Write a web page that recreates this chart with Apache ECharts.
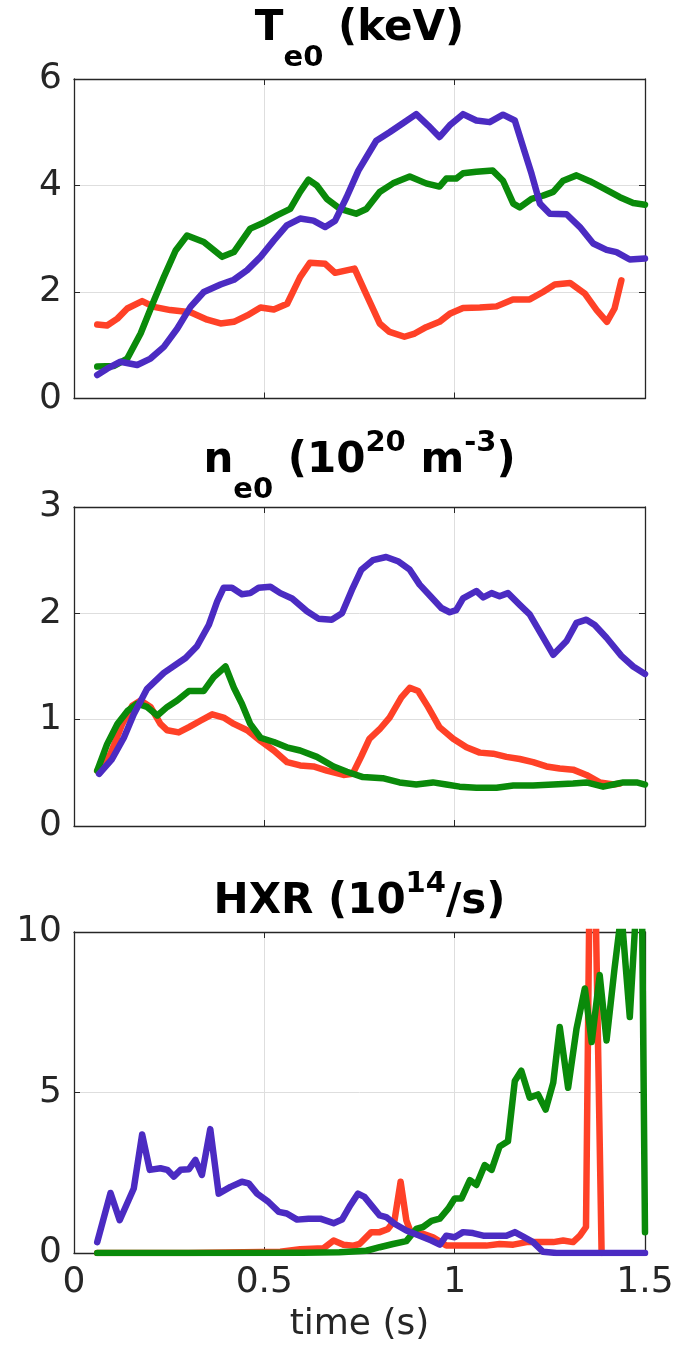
<!DOCTYPE html>
<html>
<head>
<meta charset="utf-8">
<script src="https://cdn.jsdelivr.net/npm/echarts@6/dist/echarts.min.js"></script>
<style>
  html, body { margin: 0; padding: 0; background: #fff; }
  #chart { width: 680px; height: 1359px; }
</style>
</head>
<body>
<div id="chart"></div>
<script>
// Central electron temperature (keV), [time s, value]
const teRed = [[0.061,1.39],[0.087,1.37],[0.114,1.50],[0.14,1.69],[0.179,1.83],[0.21,1.72],[0.253,1.66],[0.306,1.62],[0.35,1.48],[0.385,1.41],[0.42,1.44],[0.455,1.56],[0.49,1.71],[0.525,1.67],[0.56,1.78],[0.594,2.28],[0.62,2.55],[0.66,2.53],[0.686,2.36],[0.737,2.44],[0.763,2.03],[0.803,1.41],[0.829,1.25],[0.868,1.16],[0.895,1.22],[0.925,1.34],[0.96,1.44],[0.987,1.59],[1.022,1.70],[1.066,1.71],[1.11,1.73],[1.153,1.86],[1.197,1.86],[1.232,2.00],[1.263,2.14],[1.303,2.17],[1.342,1.97],[1.373,1.66],[1.40,1.44],[1.42,1.69],[1.438,2.22]];
const teGreen = [[0.061,0.60],[0.105,0.61],[0.14,0.75],[0.175,1.22],[0.21,1.84],[0.236,2.28],[0.267,2.78],[0.297,3.06],[0.341,2.94],[0.389,2.66],[0.42,2.75],[0.463,3.19],[0.498,3.30],[0.533,3.44],[0.568,3.56],[0.594,3.88],[0.616,4.11],[0.638,4.00],[0.664,3.75],[0.699,3.56],[0.741,3.47],[0.768,3.56],[0.803,3.88],[0.838,4.04],[0.882,4.17],[0.925,4.04],[0.96,3.98],[0.978,4.13],[1.004,4.13],[1.022,4.23],[1.057,4.26],[1.10,4.28],[1.127,4.09],[1.154,3.66],[1.171,3.59],[1.202,3.75],[1.232,3.81],[1.259,3.88],[1.285,4.09],[1.32,4.19],[1.355,4.08],[1.39,3.95],[1.434,3.78],[1.469,3.67],[1.50,3.64]];
const teBlue = [[0.061,0.44],[0.087,0.56],[0.122,0.69],[0.166,0.63],[0.201,0.75],[0.236,0.97],[0.271,1.31],[0.306,1.72],[0.341,2.00],[0.385,2.14],[0.42,2.23],[0.455,2.41],[0.49,2.66],[0.525,2.97],[0.559,3.25],[0.594,3.38],[0.629,3.34],[0.66,3.22],[0.686,3.34],[0.716,3.78],[0.747,4.28],[0.768,4.53],[0.794,4.84],[0.829,5.00],[0.864,5.17],[0.899,5.34],[0.93,5.13],[0.96,4.91],[0.987,5.13],[1.022,5.34],[1.057,5.22],[1.092,5.19],[1.127,5.33],[1.158,5.22],[1.18,4.72],[1.202,4.22],[1.224,3.66],[1.25,3.47],[1.294,3.46],[1.329,3.22],[1.364,2.91],[1.399,2.79],[1.425,2.75],[1.46,2.61],[1.50,2.63]];

// Central electron density (1e20 m^-3)
const neRed = [[0.061,0.52],[0.096,0.68],[0.127,0.96],[0.153,1.13],[0.175,1.18],[0.201,1.12],[0.227,0.96],[0.245,0.90],[0.275,0.88],[0.302,0.93],[0.332,0.99],[0.363,1.05],[0.393,1.02],[0.42,0.96],[0.455,0.90],[0.49,0.80],[0.525,0.71],[0.56,0.60],[0.594,0.57],[0.629,0.56],[0.664,0.52],[0.708,0.48],[0.732,0.49],[0.754,0.65],[0.776,0.82],[0.803,0.91],[0.829,1.02],[0.86,1.21],[0.882,1.30],[0.904,1.27],[0.93,1.12],[0.96,0.93],[0.996,0.82],[1.031,0.74],[1.066,0.69],[1.101,0.68],[1.136,0.65],[1.171,0.63],[1.206,0.60],[1.241,0.56],[1.276,0.54],[1.311,0.53],[1.346,0.48],[1.381,0.41],[1.417,0.39],[1.434,0.40]];
const neGreen = [[0.061,0.52],[0.087,0.77],[0.114,0.96],[0.14,1.08],[0.166,1.15],[0.192,1.12],[0.219,1.04],[0.245,1.12],[0.271,1.18],[0.302,1.27],[0.341,1.27],[0.367,1.40],[0.398,1.50],[0.42,1.30],[0.441,1.15],[0.463,0.96],[0.49,0.83],[0.525,0.79],[0.559,0.74],[0.594,0.71],[0.638,0.65],[0.682,0.56],[0.717,0.51],[0.759,0.46],[0.811,0.45],[0.855,0.41],[0.899,0.39],[0.943,0.41],[0.978,0.39],[1.013,0.37],[1.057,0.36],[1.11,0.36],[1.154,0.38],[1.206,0.38],[1.259,0.39],[1.311,0.40],[1.346,0.41],[1.39,0.37],[1.417,0.39],[1.443,0.41],[1.478,0.41],[1.50,0.39]];
const neBlue = [[0.066,0.49],[0.10,0.63],[0.131,0.83],[0.157,1.05],[0.192,1.29],[0.236,1.44],[0.293,1.58],[0.323,1.69],[0.354,1.89],[0.376,2.11],[0.393,2.24],[0.415,2.24],[0.441,2.18],[0.463,2.19],[0.485,2.24],[0.516,2.25],[0.542,2.19],[0.573,2.14],[0.612,2.02],[0.642,1.95],[0.677,1.94],[0.704,2.00],[0.73,2.22],[0.755,2.41],[0.785,2.50],[0.82,2.53],[0.851,2.49],[0.882,2.41],[0.908,2.27],[0.934,2.17],[0.965,2.05],[0.987,2.01],[1.004,2.03],[1.022,2.14],[1.057,2.21],[1.075,2.15],[1.097,2.19],[1.118,2.16],[1.14,2.19],[1.171,2.08],[1.197,1.99],[1.228,1.80],[1.259,1.61],[1.294,1.74],[1.32,1.91],[1.346,1.94],[1.368,1.89],[1.399,1.77],[1.438,1.60],[1.469,1.50],[1.50,1.43]];

// Hard X-ray rate (1e14 /s)
const hxrRed = [[0.061,0],[0.3,0],[0.542,0.04],[0.594,0.12],[0.656,0.15],[0.682,0.39],[0.708,0.26],[0.734,0.23],[0.75,0.28],[0.781,0.65],[0.803,0.65],[0.825,0.75],[0.842,1.02],[0.858,2.22],[0.873,1.02],[0.886,0.60],[0.917,0.60],[0.943,0.49],[0.978,0.23],[1.013,0.23],[1.048,0.23],[1.083,0.23],[1.118,0.28],[1.154,0.26],[1.189,0.34],[1.224,0.34],[1.259,0.34],[1.285,0.39],[1.311,0.34],[1.329,0.54],[1.345,0.81],[1.36,18],[1.386,0]];
const hxrGreen = [[0.061,0],[0.2,0],[0.4,0],[0.6,0.01],[0.697,0.02],[0.768,0.07],[0.803,0.18],[0.838,0.28],[0.873,0.37],[0.899,0.75],[0.917,0.81],[0.939,1.0],[0.961,1.07],[0.983,1.38],[1.0,1.70],[1.018,1.70],[1.04,2.27],[1.057,2.12],[1.079,2.74],[1.097,2.59],[1.118,3.32],[1.14,3.48],[1.158,5.36],[1.175,5.68],[1.197,4.84],[1.219,4.94],[1.239,4.47],[1.259,5.31],[1.276,7.04],[1.298,5.15],[1.32,6.98],[1.342,8.24],[1.36,6.57],[1.381,8.66],[1.399,6.62],[1.42,8.87],[1.438,10.6],[1.46,7.35],[1.478,11],[1.492,11],[1.50,0.65]];
const hxrBlue = [[0.061,0.34],[0.096,1.87],[0.12,1.02],[0.157,2.01],[0.179,3.69],[0.199,2.59],[0.227,2.64],[0.245,2.59],[0.262,2.38],[0.28,2.59],[0.302,2.61],[0.319,2.90],[0.336,2.43],[0.358,3.86],[0.38,1.85],[0.411,2.06],[0.441,2.22],[0.459,2.17],[0.481,1.85],[0.511,1.59],[0.538,1.28],[0.559,1.23],[0.586,1.04],[0.616,1.07],[0.647,1.07],[0.682,0.93],[0.704,1.04],[0.726,1.49],[0.746,1.85],[0.763,1.75],[0.785,1.43],[0.803,1.17],[0.82,1.12],[0.842,0.91],[0.873,0.70],[0.908,0.54],[0.939,0.39],[0.961,0.26],[0.978,0.54],[1.0,0.49],[1.022,0.65],[1.048,0.62],[1.075,0.54],[1.11,0.54],[1.136,0.54],[1.158,0.65],[1.18,0.51],[1.206,0.34],[1.232,0.04],[1.268,0],[1.35,0],[1.5,0]];

// Axis ranges and tick steps
const timeRange = { min: 0, max: 1.5, interval: 0.5 };
const yRanges = [
  { min: 0, max: 6, interval: 2 },
  { min: 0, max: 3, interval: 1 },
  { min: 0, max: 10, interval: 5 }
];
const panelTitles = [
  '{m|T}{sub|e0}{m| (keV)}',
  '{m|n}{sub|e0}{m| (10}{sup|20}{m| m}{sup|-3}{m|)}',
  '{m|HXR (10}{sup|14}{m|/s)}'
];
const xAxisName = 'time (s)';

const COLORS = { red: '#ff4127', green: '#0a8a0a', blue: '#4b2bc2' };
const AXIS_COLOR = '#262626';
const FONT = 'DejaVu Sans';
const TICK_FONT = 36;

const PLOT_LEFT = 74, PLOT_RIGHT = 35, PLOT_W = 680 - PLOT_LEFT - PLOT_RIGHT;
const grids = [
  { left: PLOT_LEFT, width: PLOT_W, top: 79, height: 319.5 },
  { left: PLOT_LEFT, width: PLOT_W, top: 507, height: 319 },
  { left: PLOT_LEFT, width: PLOT_W, top: 932, height: 321 }
];
const titleY = [29, 461, 902];

const xAxes = [], yAxes = [];
grids.forEach((g, i) => {
  const isBottom = i === grids.length - 1;
  // bottom / left: labelled axes with grid lines
  xAxes.push({
    type: 'value', gridIndex: i, position: 'bottom', ...timeRange,
    axisLine: { show: true, onZero: false, lineStyle: { color: AXIS_COLOR, width: 1.3 } },
    axisTick: { show: true, inside: true, length: 6, lineStyle: { color: AXIS_COLOR } },
    axisLabel: { show: isBottom, color: AXIS_COLOR, fontSize: TICK_FONT, fontFamily: FONT, margin: 12 },
    splitLine: { show: true, lineStyle: { color: '#dedede', width: 1 } },
    name: isBottom ? xAxisName : '', nameLocation: 'middle', nameGap: 54,
    nameTextStyle: { color: AXIS_COLOR, fontSize: TICK_FONT, fontFamily: FONT }
  });
  yAxes.push({
    type: 'value', gridIndex: i, position: 'left', ...yRanges[i],
    axisLine: { show: true, onZero: false, lineStyle: { color: AXIS_COLOR, width: 1.3 } },
    axisTick: { show: true, inside: true, length: 6, lineStyle: { color: AXIS_COLOR } },
    axisLabel: { show: true, color: AXIS_COLOR, fontSize: TICK_FONT, fontFamily: FONT, margin: 12 },
    splitLine: { show: true, lineStyle: { color: '#dedede', width: 1 } }
  });
  // top / right: box edges with inward ticks
  xAxes.push({
    type: 'value', gridIndex: i, position: 'top', ...timeRange,
    axisLine: { show: true, onZero: false, lineStyle: { color: AXIS_COLOR, width: 1.3 } },
    axisTick: { show: true, inside: true, length: 6, lineStyle: { color: AXIS_COLOR } },
    axisLabel: { show: false }, splitLine: { show: false }
  });
  yAxes.push({
    type: 'value', gridIndex: i, position: 'right', ...yRanges[i],
    axisLine: { show: true, onZero: false, lineStyle: { color: AXIS_COLOR, width: 1.3 } },
    axisTick: { show: true, inside: true, length: 6, lineStyle: { color: AXIS_COLOR } },
    axisLabel: { show: false }, splitLine: { show: false }
  });
});

function lineSeries(data, color, panel) {
  return {
    type: 'line', data, xAxisIndex: panel * 2, yAxisIndex: panel * 2,
    showSymbol: false, clip: true, animation: false, silent: true,
    lineStyle: { color, width: 6.5, cap: 'round', join: 'round' }
  };
}

const series = [
  lineSeries(teRed, COLORS.red, 0), lineSeries(teGreen, COLORS.green, 0), lineSeries(teBlue, COLORS.blue, 0),
  lineSeries(neRed, COLORS.red, 1), lineSeries(neGreen, COLORS.green, 1), lineSeries(neBlue, COLORS.blue, 1),
  lineSeries(hxrRed, COLORS.red, 2), lineSeries(hxrGreen, COLORS.green, 2), lineSeries(hxrBlue, COLORS.blue, 2)
];

// Title line: main text centred, subscripts sit at the line bottom, superscripts
// at the line top pushed down by padding
const richTitle = {
  m:   { fontSize: 42, fontWeight: 'bold', fontFamily: FONT, lineHeight: 88, fill: '#000' },
  sub: { fontSize: 29, fontWeight: 'bold', fontFamily: FONT, verticalAlign: 'bottom', fill: '#000' },
  sup: { fontSize: 29, fontWeight: 'bold', fontFamily: FONT, verticalAlign: 'top', padding: [12, 0, 0, 0], fill: '#000' }
};

const graphic = panelTitles.map((t, i) => ({
  type: 'text', x: PLOT_LEFT + PLOT_W / 2, y: titleY[i], silent: true,
  style: { text: t, rich: richTitle, align: 'center', verticalAlign: 'middle', fill: '#000' }
}));

const chart = echarts.init(document.getElementById('chart'), null, { renderer: 'canvas' });
chart.setOption({
  animation: false,
  backgroundColor: '#ffffff',
  grid: grids.map(g => ({ ...g, containLabel: false })),
  xAxis: xAxes,
  yAxis: yAxes,
  series,
  graphic
});
</script>
</body>
</html>
